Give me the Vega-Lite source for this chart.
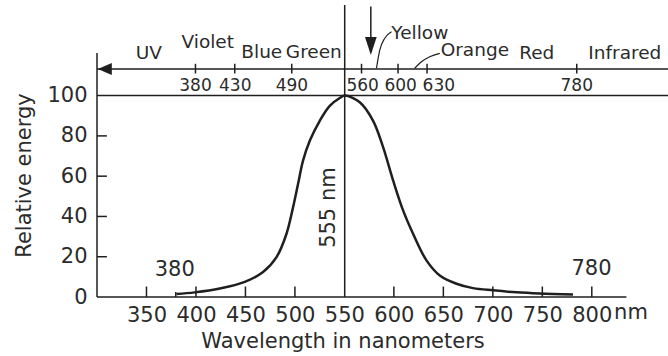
{
  "$schema": "https://vega.github.io/schema/vega-lite/v6.json",
  "width": 571,
  "height": 292,
  "autosize": {"type": "none"},
  "padding": {"left": 97, "top": 5, "right": 0, "bottom": 59},
  "background": "white",
  "config": {
    "view": {"stroke": null},
    "font": "DejaVu Sans",
    "text": {"font": "DejaVu Sans", "color": "#2b2b2b"}
  },
  "datasets": {
    "curve": [
      {"x": 380.3, "y": 1.5}, {"x": 398.8, "y": 2.3}, {"x": 424.1, "y": 4.2},
      {"x": 449.3, "y": 7.5}, {"x": 467.8, "y": 12.4}, {"x": 481.4, "y": 19.8},
      {"x": 491.5, "y": 31.4}, {"x": 498.1, "y": 44.5}, {"x": 503.2, "y": 56.2},
      {"x": 508.2, "y": 67.7}, {"x": 515, "y": 77.6}, {"x": 525.1, "y": 87.5},
      {"x": 535.2, "y": 94.9}, {"x": 545.3, "y": 98.8}, {"x": 550.5, "y": 100},
      {"x": 565.5, "y": 96.7}, {"x": 578.9, "y": 87.6}, {"x": 589.1, "y": 74.4},
      {"x": 599.2, "y": 57.9}, {"x": 609.3, "y": 43.0}, {"x": 619.4, "y": 31.4},
      {"x": 632.9, "y": 18.2}, {"x": 646.4, "y": 10.7}, {"x": 663.3, "y": 6.6},
      {"x": 680, "y": 4.4}, {"x": 700.2, "y": 3.3}, {"x": 723.9, "y": 2.3},
      {"x": 747.4, "y": 1.7}, {"x": 781, "y": 1.2}
    ],
    "hrules": [
      {"x": 300, "x2": 877, "y": 100},
      {"x": 300, "x2": 877, "y": 113.2},
      {"x": 300, "x2": 835, "y": 0},
      {"x": 300, "x2": 310, "y": 20},
      {"x": 300, "x2": 310, "y": 40},
      {"x": 300, "x2": 310, "y": 60},
      {"x": 300, "x2": 310, "y": 80}
    ],
    "vrules": [
      {"x": 300, "y": 0, "y2": 121.2},
      {"x": 550.3, "y": 0, "y2": 145},
      {"x": 576.7, "y": 126, "y2": 144.2},
      {"x": 379.6, "y": 0, "y2": 2.5},
      {"x": 350, "y": 0, "y2": 5.2},
      {"x": 400, "y": 0, "y2": 5.2},
      {"x": 450, "y": 0, "y2": 5.2},
      {"x": 500, "y": 0, "y2": 5.2},
      {"x": 600, "y": 0, "y2": 5.2},
      {"x": 650, "y": 0, "y2": 5.2},
      {"x": 700, "y": 0, "y2": 5.2},
      {"x": 750, "y": 0, "y2": 5.2},
      {"x": 800, "y": 0, "y2": 5.2},
      {"x": 399.5, "y": 111.0, "y2": 115.8},
      {"x": 439.2, "y": 111.0, "y2": 115.8},
      {"x": 496.8, "y": 111.0, "y2": 115.8},
      {"x": 567.3, "y": 111.0, "y2": 115.8},
      {"x": 604.2, "y": 111.0, "y2": 115.8},
      {"x": 633.5, "y": 111.0, "y2": 115.8},
      {"x": 784.8, "y": 111.0, "y2": 115.8}
    ],
    "toplabels": [
      {"x": 399.5, "y": 105, "label": "380"}, {"x": 439.7, "y": 105, "label": "430"},
      {"x": 497, "y": 105, "label": "490"}, {"x": 568.5, "y": 105, "label": "560"},
      {"x": 606.8, "y": 105, "label": "600"}, {"x": 645.4, "y": 105, "label": "630"},
      {"x": 784.8, "y": 105, "label": "780"}
    ],
    "bands": [
      {"x": 352.3, "y": 121.4, "label": "UV"},
      {"x": 411.9, "y": 126.8, "label": "Violet"},
      {"x": 466.5, "y": 121.8, "label": "Blue"},
      {"x": 519.1, "y": 121.8, "label": "Green"},
      {"x": 626.2, "y": 131.3, "label": "Yellow"},
      {"x": 681.8, "y": 122.7, "label": "Orange"},
      {"x": 744.4, "y": 121.4, "label": "Red"},
      {"x": 833.4, "y": 121.2, "label": "Infrared"}
    ],
    "leaders": [
      {"g": "Yellow", "o": 1, "x": 582.4, "y": 113.6},
      {"g": "Yellow", "o": 2, "x": 585.8, "y": 122.7},
      {"g": "Yellow", "o": 3, "x": 590.8, "y": 128.5},
      {"g": "Yellow", "o": 4, "x": 597.6, "y": 131.7},
      {"g": "Orange", "o": 1, "x": 621.1, "y": 113.6},
      {"g": "Orange", "o": 2, "x": 627.9, "y": 116.8},
      {"g": "Orange", "o": 3, "x": 636.2, "y": 119.3},
      {"g": "Orange", "o": 4, "x": 646.4, "y": 121.0}
    ],
    "leftHead": [{"x": 307.9, "y": 113.2}],
    "downHead": [{"x": 576.7, "y": 124.7}],
    "notes": [
      {"x": 378.6, "y": 13.4, "label": "380"},
      {"x": 799.7, "y": 13.9, "label": "780"}
    ],
    "peakNote": [{"x": 534.7, "y": 44.4, "label": "555 nm"}],
    "unit": [{"x": 822.5, "y": -7.9, "label": "nm"}]
  },
  "encoding": {
    "x": {
      "field": "x",
      "type": "quantitative",
      "scale": {"domain": [300, 877], "nice": false, "zero": false},
      "axis": {
        "values": [350, 400, 450, 500, 550, 600, 650, 700, 750, 800],
        "domain": false,
        "grid": false,
        "ticks": false,
        "labelPadding": 7,
        "labelFont": "DejaVu Sans",
        "labelFontSize": 21,
        "labelColor": "#2b2b2b",
        "labelOverlap": false,
        "labelFlush": false,
        "title": "Wavelength in nanometers",
        "titleFont": "DejaVu Sans",
        "titleFontSize": 21,
        "titleFontWeight": "normal",
        "titleColor": "#2b2b2b",
        "titleX": 245.5,
        "titlePadding": 5
      }
    },
    "y": {
      "field": "y",
      "type": "quantitative",
      "scale": {"domain": [0, 145], "nice": false, "zero": false},
      "axis": {
        "values": [0, 20, 40, 60, 80, 100],
        "domain": false,
        "grid": false,
        "ticks": false,
        "labelPadding": 10,
        "labelFont": "DejaVu Sans",
        "labelFontSize": 21,
        "labelColor": "#2b2b2b",
        "labelOverlap": false,
        "labelFlush": false,
        "title": "Relative energy",
        "titleFont": "DejaVu Sans",
        "titleFontSize": 21,
        "titleFontWeight": "normal",
        "titleColor": "#2b2b2b",
        "titleY": 170,
        "titlePadding": 12
      }
    }
  },
  "layer": [
    {
      "data": {"name": "hrules"},
      "mark": {"type": "rule", "color": "#1f1f1f", "strokeWidth": 1.5},
      "encoding": {"x2": {"field": "x2"}}
    },
    {
      "data": {"name": "vrules"},
      "mark": {"type": "rule", "color": "#1f1f1f", "strokeWidth": 1.5},
      "encoding": {"y2": {"field": "y2"}}
    },
    {
      "data": {"name": "toplabels"},
      "mark": {"type": "text", "fontSize": 17, "align": "center", "baseline": "middle"},
      "encoding": {"text": {"field": "label"}}
    },
    {
      "data": {"name": "bands"},
      "mark": {"type": "text", "fontSize": 18.5, "align": "center", "baseline": "middle"},
      "encoding": {"text": {"field": "label"}}
    },
    {
      "data": {"name": "leaders"},
      "mark": {"type": "line", "color": "#1f1f1f", "strokeWidth": 1.2, "interpolate": "monotone"},
      "encoding": {"detail": {"field": "g"}, "order": {"field": "o"}}
    },
    {
      "data": {"name": "leftHead"},
      "mark": {"type": "point", "shape": "M-1,0L1,-0.85L1,0.85Z", "size": 196, "filled": true, "color": "#1f1f1f", "opacity": 1}
    },
    {
      "data": {"name": "downHead"},
      "mark": {"type": "point", "shape": "M-0.65,-1L0,1L0.65,-1Z", "size": 324, "filled": true, "color": "#1f1f1f", "opacity": 1}
    },
    {
      "data": {"name": "curve"},
      "mark": {"type": "line", "color": "#1f1f1f", "strokeWidth": 2.5, "interpolate": "catmull-rom"}
    },
    {
      "data": {"name": "notes"},
      "mark": {"type": "text", "fontSize": 21, "align": "center", "baseline": "middle"},
      "encoding": {"text": {"field": "label"}}
    },
    {
      "data": {"name": "peakNote"},
      "mark": {"type": "text", "fontSize": 21, "align": "center", "baseline": "middle", "angle": 270},
      "encoding": {"text": {"field": "label"}}
    },
    {
      "data": {"name": "unit"},
      "mark": {"type": "text", "fontSize": 21, "align": "left", "baseline": "middle"},
      "encoding": {"text": {"field": "label"}}
    }
  ]
}
